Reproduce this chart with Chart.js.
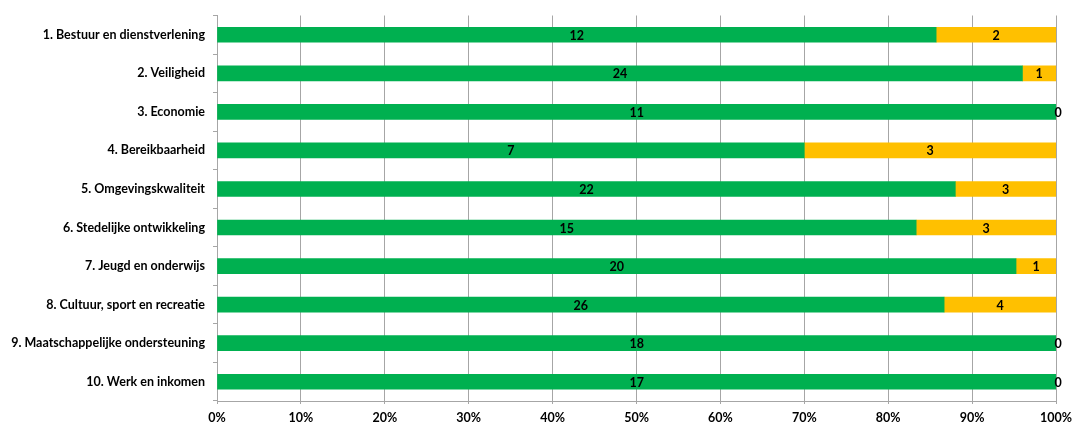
<!DOCTYPE html>
<html>
<head>
<meta charset="utf-8">
<script src="https://cdn.jsdelivr.net/npm/chart.js@4"></script>
<style>
html,body{margin:0;padding:0;background:#fff;}
#wrap{width:1087px;height:434px;position:relative;}
</style>
</head>
<body>
<div id="wrap"><canvas id="c" width="1087" height="434"></canvas></div>
<script>
const categories = [
  "1. Bestuur en dienstverlening",
  "2. Veiligheid",
  "3. Economie",
  "4. Bereikbaarheid",
  "5. Omgevingskwaliteit",
  "6. Stedelijke ontwikkeling",
  "7. Jeugd en onderwijs",
  "8. Cultuur, sport en recreatie",
  "9. Maatschappelijke ondersteuning",
  "10. Werk en inkomen"
];
const greenCounts = [12, 24, 11, 7, 22, 15, 20, 26, 18, 17];
const yellowCounts = [2, 1, 0, 3, 3, 3, 1, 4, 0, 0];
const xTickValues = [0, 10, 20, 30, 40, 50, 60, 70, 80, 90, 100];

const totals = greenCounts.map((g, i) => g + yellowCounts[i]);
const greenPct = greenCounts.map((g, i) => g / totals[i] * 100);
const yellowPct = yellowCounts.map((y, i) => y / totals[i] * 100);

const FONT = "Lato, 'Open Sans', sans-serif";

const labelPlugin = {
  id: 'segLabels',
  afterDatasetsDraw(chart) {
    const ctx = chart.ctx;
    ctx.save();
    ctx.font = "bold 12.5px " + FONT;
    ctx.fillStyle = '#000';
    ctx.textAlign = 'center';
    ctx.textBaseline = 'middle';
    chart.data.datasets.forEach((ds, di) => {
      const meta = chart.getDatasetMeta(di);
      meta.data.forEach((el, i) => {
        const cx = (el.x + el.base) / 2;
        ctx.fillText(String(ds.counts[i]), cx + (ds.counts[i] === 0 ? 2 : 0), el.y + 1);
      });
    });
    ctx.restore();
  }
};

new Chart(document.getElementById('c'), {
  type: 'bar',
  data: {
    labels: categories,
    datasets: [
      { label: 'groen', data: greenPct, counts: greenCounts, backgroundColor: '#00B050', barThickness: 15 },
      { label: 'geel', data: yellowPct, counts: yellowCounts, backgroundColor: '#FFC000', barThickness: 15 }
    ]
  },
  options: {
    indexAxis: 'y',
    responsive: false,
    animation: false,
    layout: { padding: { left: 0, right: 31, top: 15, bottom: 0 } },
    plugins: { legend: { display: false }, tooltip: { enabled: false } },
    scales: {
      x: {
        stacked: true,
        min: 0,
        max: 100,
        afterBuildTicks(s) { s.ticks = xTickValues.map(v => ({ value: v })); },
        afterFit(s) { s.height = 33; },
        grid: { color: '#A6A6A6', lineWidth: 1, tickLength: 3, drawTicks: true },
        border: { color: '#A6A6A6' },
        ticks: {
          padding: 6,
          color: '#000',
          font: { family: FONT, size: 12.5, weight: 'bold' },
          callback: v => v + '%'
        }
      },
      y: {
        stacked: true,
        afterFit(s) { s.width = 217; },
        grid: { display: true, drawOnChartArea: false, drawTicks: true, tickLength: 4, color: '#A6A6A6', offset: true },
        border: { color: '#A6A6A6' },
        ticks: {
          padding: 8,
          color: '#000',
          font: { family: FONT, size: 12.5, weight: 'bold' }
        }
      }
    }
  },
  plugins: [labelPlugin]
});
</script>
</body>
</html>
